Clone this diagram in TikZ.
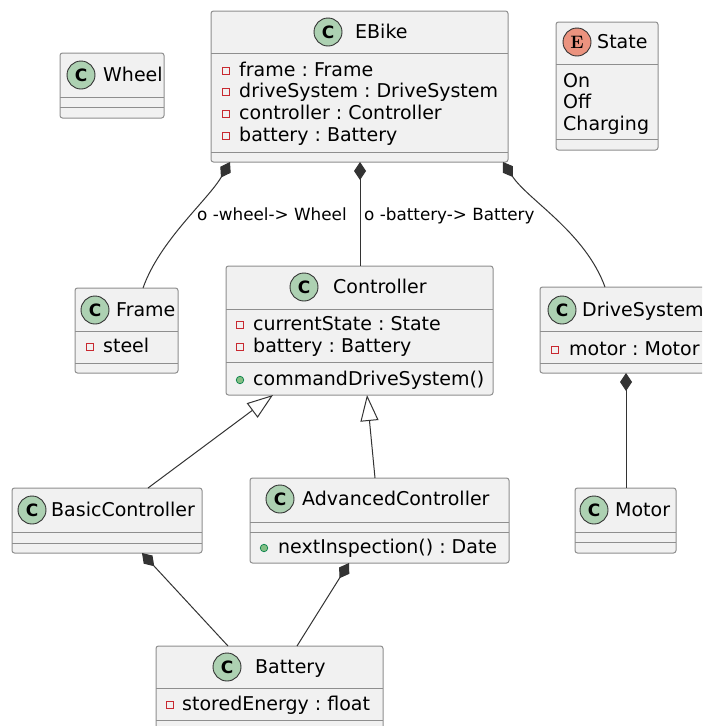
\documentclass[tikz,border=0pt]{standalone}
\usepackage{fontspec}
\setsansfont{DejaVu Sans}
\usetikzlibrary{arrows.meta}
\frenchspacing
\definecolor{boxfill}{HTML}{F1F1F1}
\definecolor{boxline}{HTML}{8E8E8E}
\definecolor{edge}{HTML}{333333}
\definecolor{cgreen}{HTML}{ADD1B2}
\definecolor{ered}{HTML}{EB937F}
\definecolor{privred}{HTML}{C82930}
\definecolor{pubfill}{HTML}{84BE84}
\definecolor{publine}{HTML}{038048}
\newcommand{\umlbox}[7]{%
  \pgfmathsetmacro\bw{#4-#2}\pgfmathsetmacro\bh{#5-#3}%
  \node[cls, minimum width=\bw pt, minimum height=\bh pt, anchor=north west] (#1) at (#2,#3) {};
  \draw[sepl] (#2,#6) -- (#4,#6);
  \draw[sepl] (#2,#7) -- (#4,#7);
}
\tikzset{
 x=1pt,y=-1pt,
 cls/.style={draw=boxline, fill=boxfill, line width=1pt, rounded corners=2.5pt, inner sep=0pt, outer sep=0pt},
 sepl/.style={draw=boxline, line width=1pt},
 cicon/.style={circle, draw=edge, line width=0.9pt, fill=cgreen, minimum size=28pt, inner sep=0pt, font=\sffamily\bfseries\fontsize{17}{17}\selectfont},
 eicon/.style={cicon, fill=ered, font=\rmfamily\bfseries\fontsize{18}{18}\selectfont},
 ttl/.style={anchor=west, inner sep=0pt, font=\sffamily\fontsize{19}{22}\selectfont, text height=13.9pt, text depth=0pt},
 attr/.style={ttl},
 lbl/.style={anchor=west, inner sep=0pt, font=\sffamily\fontsize{16.8}{20}\selectfont, text height=12.3pt, text depth=0pt},
 priv/.style={draw=privred, line width=0.9pt, fill=none, minimum size=7pt, inner sep=0pt},
 pub/.style={circle, draw=publine, fill=pubfill, line width=0.7pt, minimum size=7.5pt, inner sep=0pt},
 rel/.style={draw=edge, line width=1pt},
 comp/.style={rel, {Diamond[length=18pt,width=12pt,fill=edge]}-},
 gen/.style={rel, -{Triangle[open,length=26pt,width=18pt,fill=white]}},
}
\begin{document}
\begin{tikzpicture}
\useasboundingbox (0,0) rectangle (702,726);
\fill[white] (0,0) rectangle (702,726);
\clip (0,0) rectangle (702,726);

% ---------- EBike ----------
\umlbox{ebike}{211}{11}{508}{162}{53}{152}
\node[cicon] (ebikeC) at (328,32) {C};
\node[ttl] (ebikeT) at (355,32) {EBike};
\node[priv] (ebq1) at (226,71) {};
\node[attr] (eba1) at (239,70) {frame : Frame};
\node[priv] (ebq2) at (226,92) {};
\node[attr] (eba2) at (239,91) {driveSystem : DriveSystem};
\node[priv] (ebq3) at (226,114) {};
\node[attr] (eba3) at (239,113) {controller : Controller};
\node[priv] (ebq4) at (226,136) {};
\node[attr] (eba4) at (239,135) {battery : Battery};

% ---------- State ----------
\umlbox{state}{556}{22}{658}{150}{64}{139}
\node[eicon] (stateE) at (577,42) {E};
\node[ttl] (stateT) at (597,42) {State};
\node[attr] (st1) at (563,81) {On};
\node[attr] (st2) at (563,102) {Off};
\node[attr] (st3) at (563,124) {Charging};

% ---------- Wheel ----------
\umlbox{wheel}{60}{53}{164}{118}{97}{107}
\node[cicon] (wheelC) at (81,75) {C};
\node[ttl] (wheelT) at (103,75) {Wheel};

% ---------- Frame ----------
\umlbox{frame}{75}{288}{178}{373}{331}{363}
\node[cicon] (frameC) at (95,310) {C};
\node[ttl] (frameT) at (116,310) {Frame};
\node[priv] (frq1) at (90,347) {};
\node[attr] (fra1) at (103,346) {steel};

% ---------- Controller ----------
\umlbox{ctrl}{226}{266}{493}{395}{309}{362}
\node[cicon] (ctrlC) at (304,287) {C};
\node[ttl] (ctrlT) at (333,287) {Controller};
\node[priv] (ctq1) at (240,325) {};
\node[attr] (cta1) at (253,324) {currentState : State};
\node[priv] (ctq2) at (240,347) {};
\node[attr] (cta2) at (253,346) {battery : Battery};
\node[pub] (ctm1c) at (240,380) {};
\node[attr] (ctm1) at (253,379) {commandDriveSystem()};

% ---------- DriveSystem ----------
\umlbox{drive}{540}{287}{712}{373}{331}{363}
\node[cicon] (driveC) at (562,310) {C};
\node[ttl] (driveT) at (582,310) {DriveSystem};
\node[priv] (drq1) at (555,350) {};
\node[attr] (dra1) at (569,349) {motor : Motor};

% ---------- Motor ----------
\umlbox{motor}{575}{488}{676}{553}{532}{542}
\node[cicon] (motorC) at (594,510) {C};
\node[ttl] (motorT) at (615,510) {Motor};

% ---------- BasicController ----------
\umlbox{basic}{12}{488}{202}{553}{532}{543}
\node[cicon] (basicC) at (32,510) {C};
\node[ttl] (basicT) at (51,510) {BasicController};

% ---------- AdvancedController ----------
\umlbox{adv}{250}{478}{509}{563}{522}{532}
\node[cicon] (advC) at (280,499) {C};
\node[ttl] (advT) at (302,499) {AdvancedController};
\node[pub] (advm1c) at (264,548) {};
\node[attr] (advm1) at (278,547) {nextInspection() : Date};

% ---------- Battery ----------
\umlbox{batt}{156}{646}{383}{740}{688}{720}
\node[cicon] (battC) at (227,667) {C};
\node[ttl] (battT) at (255,667) {Battery};
\node[priv] (baq1) at (170,705) {};
\node[attr] (baa1) at (182,704) {storedEnergy : float};

% ---------- connection points ----------
\path (ebike.south west) ++(19,0) coordinate (e1);
\path (ebike.south west) ++(149,0) coordinate (e2);
\path (ebike.south west) ++(292,0) coordinate (e3);
\path (frame.north west) ++(68,0) coordinate (f1);
\path (ctrl.north west) ++(134,0) coordinate (c1);
\path (drive.north west) ++(65,0) coordinate (d1);
\path (drive.south west) ++(86,0) coordinate (d2);
\path (motor.north west) ++(51,0) coordinate (m1);
\path (ctrl.south west) ++(47,0) coordinate (c2);
\path (ctrl.south west) ++(141,0) coordinate (c3);
\path (basic.north west) ++(136,0) coordinate (b1);
\path (adv.north west) ++(125,0) coordinate (a1);
\path (basic.south west) ++(130,0) coordinate (b2);
\path (adv.south west) ++(99,0) coordinate (a2);
\path (batt.north west) ++(72,0) coordinate (bt1);
\path (batt.north west) ++(141,0) coordinate (bt2);

% ---------- relations ----------
\draw[comp] (e1) .. controls (208,200) and (160,240) .. (f1);
\draw[comp] (e2) -- (c1);
\draw[comp] (e3) .. controls (528,200) and (585,232) .. (d1);
\draw[comp] (d2) -- (m1);
\draw[gen] (b1) -- (c2);
\draw[gen] (a1) -- (c3);
\draw[comp] (b2) -- (bt1);
\draw[comp] (a2) -- (bt2);

% ---------- edge labels ----------
\node[lbl] (lw) at (197,214) {o -wheel-> Wheel};
\node[lbl] (lb) at (364,214) {o -battery-> Battery};
\end{tikzpicture}
\end{document}
